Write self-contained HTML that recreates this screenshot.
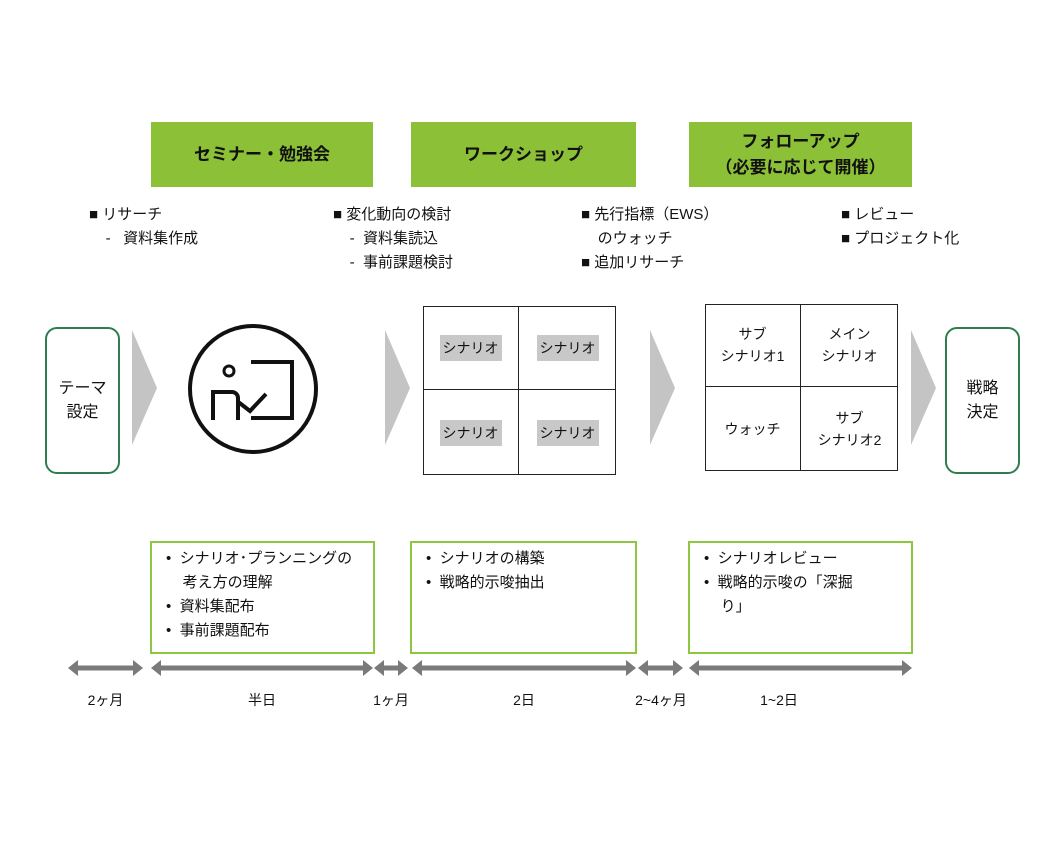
<!DOCTYPE html>
<html><head><meta charset="utf-8"><style>
body{margin:0;width:1054px;height:843px;background:#fff;position:relative;overflow:hidden;font-family:"Liberation Sans","Noto Sans CJK JP",sans-serif;color:#111}
.a{position:absolute}
.hd{position:absolute;background:#8cc036;color:#111;font-weight:bold;font-size:17px;display:flex;align-items:center;justify-content:center;text-align:center;line-height:26px}
.t{position:absolute;font-size:15px;line-height:24px;white-space:nowrap}
.bx{position:absolute;border:2px solid #8dc63f;box-sizing:border-box;font-size:15px;line-height:24px;padding:4px 0 0 14px}
.rb{position:absolute;border:2px solid #2e7d4f;border-radius:12px;box-sizing:border-box;display:flex;align-items:center;justify-content:center;text-align:center;font-size:16px;line-height:24px}
.g{position:absolute;border:1px solid #222;box-sizing:border-box}
.c{position:absolute;display:flex;align-items:center;justify-content:center;text-align:center;font-size:14px;line-height:22px}
.c span.gr{background:#c8c8c8;padding:2px 3px}
.lb{position:absolute;font-size:14px;text-align:center}
</style></head><body>
<div class="hd" style="left:151px;top:122px;width:222px;height:65px">セミナー・勉強会</div>
<div class="hd" style="left:411px;top:122px;width:225px;height:65px">ワークショップ</div>
<div class="hd" style="left:689px;top:122px;width:223px;height:65px">フォローアップ<br>（必要に応じて開催）</div>

<div class="t" style="left:89px;top:203px">■ リサーチ<br>&nbsp;&nbsp;&nbsp;&nbsp;-&nbsp;&nbsp; 資料集作成</div>
<div class="t" style="left:333px;top:203px">■ 変化動向の検討<br>&nbsp;&nbsp;&nbsp;&nbsp;-&nbsp; 資料集読込<br>&nbsp;&nbsp;&nbsp;&nbsp;-&nbsp; 事前課題検討</div>
<div class="t" style="left:581px;top:203px">■ 先行指標（EWS）<br>&nbsp;&nbsp;&nbsp;&nbsp;のウォッチ<br>■ 追加リサーチ</div>
<div class="t" style="left:841px;top:203px">■ レビュー<br>■ プロジェクト化</div>

<div class="rb" style="left:45px;top:327px;width:75px;height:147px">テーマ<br>設定</div>
<div class="rb" style="left:945px;top:327px;width:75px;height:147px">戦略<br>決定</div>

<svg class="a" style="left:0;top:0" width="1054" height="843">
<g fill="#c4c4c4">
<polygon points="132,330 157,388 132,445"/>
<polygon points="385,330 410,388 385,445"/>
<polygon points="650,330 675,388 650,445"/>
<polygon points="911,330 936,388 911,445"/>
</g>
<circle cx="253" cy="389" r="63" fill="none" stroke="#111" stroke-width="4"/>
<g fill="none" stroke="#111" stroke-width="4">
<polyline points="251,362 292,362 292,418 251,418"/>
<circle cx="229" cy="371" r="5" stroke-width="3"/>
<path d="M213,420 V392 H232 a6,6 0 0 1 6,6 V420"/>
<polyline points="237,401 250,411 266,394"/>
</g>
<g stroke="#7a7a7a" stroke-width="5" fill="#7a7a7a">
<line x1="74" y1="668" x2="137" y2="668"/>
<line x1="157" y1="668" x2="367" y2="668"/>
<line x1="380" y1="668" x2="402" y2="668"/>
<line x1="418" y1="668" x2="630" y2="668"/>
<line x1="644" y1="668" x2="677" y2="668"/>
<line x1="695" y1="668" x2="906" y2="668"/>
</g>
<g fill="#7a7a7a">
<polygon points="68,668 78,660 78,676"/><polygon points="143,668 133,660 133,676"/>
<polygon points="151,668 161,660 161,676"/><polygon points="373,668 363,660 363,676"/>
<polygon points="374,668 384,660 384,676"/><polygon points="408,668 398,660 398,676"/>
<polygon points="412,668 422,660 422,676"/><polygon points="636,668 626,660 626,676"/>
<polygon points="638,668 648,660 648,676"/><polygon points="683,668 673,660 673,676"/>
<polygon points="689,668 699,660 699,676"/><polygon points="912,668 902,660 902,676"/>
</g>
</svg>

<div class="g" style="left:423px;top:306px;width:193px;height:169px"></div>
<div class="a" style="left:518px;top:306px;width:1px;height:169px;background:#222"></div>
<div class="a" style="left:423px;top:389px;width:193px;height:1px;background:#222"></div>
<div class="c" style="left:423px;top:306px;width:95px;height:83px"><span class="gr">シナリオ</span></div>
<div class="c" style="left:519px;top:306px;width:97px;height:83px"><span class="gr">シナリオ</span></div>
<div class="c" style="left:423px;top:390px;width:95px;height:85px"><span class="gr">シナリオ</span></div>
<div class="c" style="left:519px;top:390px;width:97px;height:85px"><span class="gr">シナリオ</span></div>

<div class="g" style="left:705px;top:304px;width:193px;height:167px"></div>
<div class="a" style="left:800px;top:304px;width:1px;height:167px;background:#222"></div>
<div class="a" style="left:705px;top:386px;width:193px;height:1px;background:#222"></div>
<div class="c" style="left:705px;top:304px;width:95px;height:82px">サブ<br>シナリオ1</div>
<div class="c" style="left:801px;top:304px;width:97px;height:82px">メイン<br>シナリオ</div>
<div class="c" style="left:705px;top:387px;width:95px;height:84px">ウォッチ</div>
<div class="c" style="left:801px;top:387px;width:97px;height:84px">サブ<br>シナリオ2</div>

<div class="bx" style="left:150px;top:541px;width:225px;height:113px">•&nbsp; シナリオ･プランニングの<br>&nbsp;&nbsp;&nbsp;&nbsp;考え方の理解<br>•&nbsp; 資料集配布<br>•&nbsp; 事前課題配布</div>
<div class="bx" style="left:410px;top:541px;width:227px;height:113px">•&nbsp; シナリオの構築<br>•&nbsp; 戦略的示唆抽出</div>
<div class="bx" style="left:688px;top:541px;width:225px;height:113px">•&nbsp; シナリオレビュー<br>•&nbsp; 戦略的示唆の「深掘<br>&nbsp;&nbsp;&nbsp;&nbsp;り」</div>

<div class="lb" style="left:68px;top:690px;width:75px">2ヶ月</div>
<div class="lb" style="left:151px;top:690px;width:222px">半日</div>
<div class="lb" style="left:362px;top:690px;width:58px">1ヶ月</div>
<div class="lb" style="left:412px;top:690px;width:224px">2日</div>
<div class="lb" style="left:625px;top:690px;width:72px">2~4ヶ月</div>
<div class="lb" style="left:689px;top:690px;width:180px">1~2日</div>
</body></html>
